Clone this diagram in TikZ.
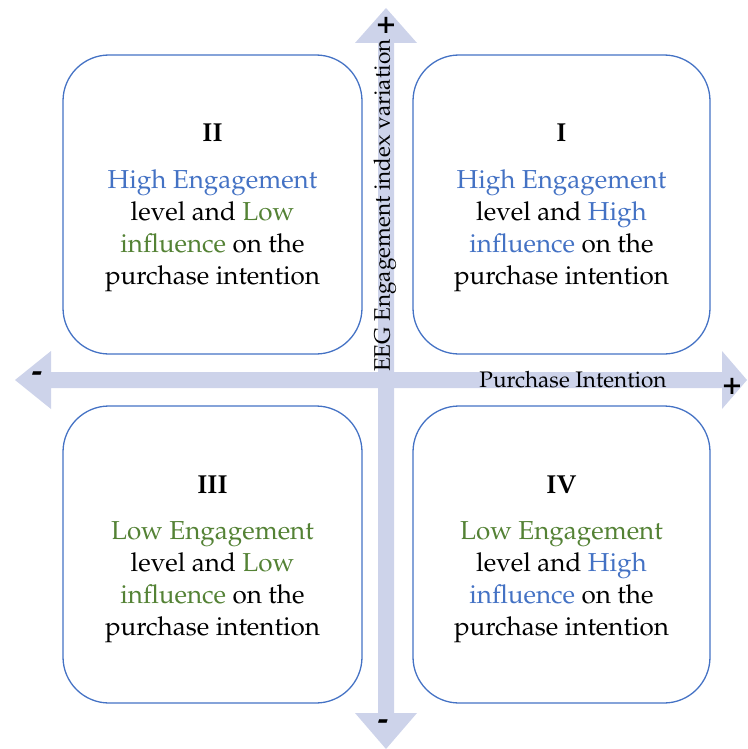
\documentclass[tikz,border=0pt]{standalone}
\usepackage[T1]{fontenc}
\usepackage{mathpazo}
\definecolor{arrowfill}{HTML}{CDD3EA}
\definecolor{boxblue}{HTML}{4472C4}
\definecolor{txtblue}{HTML}{4472C4}
\definecolor{txtgreen}{HTML}{548235}
\tikzset{
  quad/.style={draw=boxblue, line width=1.3pt, rounded corners=46pt},
  quadtext/.style={align=center, font=\fontsize{26}{32}\selectfont, text=black, inner sep=0pt},
  quadtitle/.style={font=\fontsize{26}{31}\selectfont\bfseries, text=black, inner sep=0pt},
  signlbl/.style={font=\fontsize{32}{32}\selectfont\bfseries, text=black, inner sep=0pt},
  axislbl/.style={font=\fontsize{22.5}{24}\selectfont, text=black, inner sep=0pt}
}
\newcommand{\hb}[1]{\textcolor{txtblue}{#1}}
\newcommand{\gr}[1]{\textcolor{txtgreen}{#1}}
\begin{document}
\begin{tikzpicture}[x=1pt,y=-1pt]
\useasboundingbox (0,0) rectangle (747,749);
% axes (block arrows)
\fill[arrowfill] (15,380) -- (51,351) -- (51,372) -- (722,372) -- (722,351) -- (747,380) -- (722,409) -- (722,388) -- (51,388) -- (51,409) -- cycle;
\fill[arrowfill] (386,8) -- (417,43) -- (394,43) -- (394,713) -- (417,713) -- (386,749) -- (355,713) -- (378,713) -- (378,43) -- (355,43) -- cycle;
% boxes
\draw[quad] (63,55) rectangle (362,354);
\draw[quad] (413,55) rectangle (710,354);
\draw[quad] (63,406) rectangle (362,703);
\draw[quad] (413,406) rectangle (710,703);
\node (t2) [quadtitle] at (212.5,133) {II};
\node (q2) [quadtext] at (212.5,231) {\hb{High Engagement}\\level and \gr{Low}\\\gr{influence} on the\\purchase intention};
\node (t1) [quadtitle] at (561.5,133) {I};
\node (q1) [quadtext] at (561.5,231) {\hb{High Engagement}\\level and \hb{High}\\\hb{influence} on the\\purchase intention};
\node (t3) [quadtitle] at (212.5,485) {III};
\node (q3) [quadtext] at (212.5,582) {\gr{Low Engagement}\\level and \gr{Low}\\\gr{influence} on the\\purchase intention};
\node (t4) [quadtitle] at (561.5,485) {IV};
\node (q4) [quadtext] at (561.5,582) {\gr{Low Engagement}\\level and \hb{High}\\\hb{influence} on the\\purchase intention};
% axis labels
\node (yl) [axislbl, rotate=90, anchor=west] at (385,372) {EEG Engagement index variation};
\node (xl) [axislbl] at (573,380) {Purchase Intention};
% signs
\node (pt) [signlbl] at (386,25) {+};
\node (ml) [signlbl] at (37,377) {-};
\node (pr) [signlbl] at (732,386) {+};
\node (mb) [signlbl] at (383,725) {-};
\end{tikzpicture}
\end{document}
